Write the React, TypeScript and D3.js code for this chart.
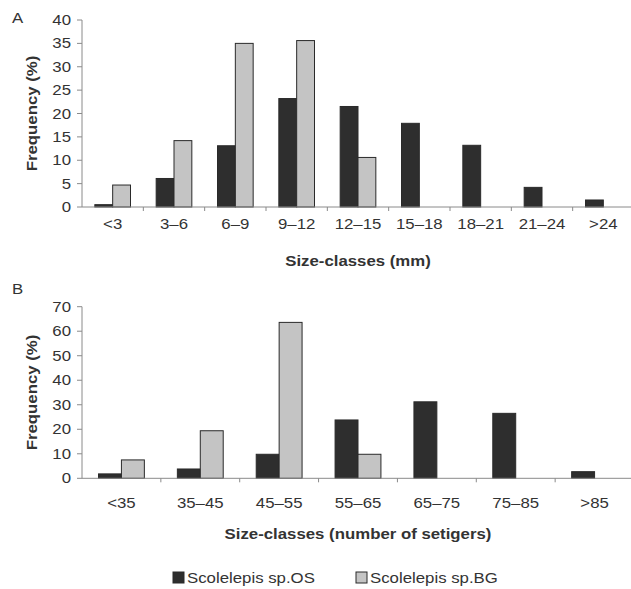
import React, { useRef, useEffect } from 'react';
import * as d3 from 'd3';

const seriesNames = ['Scolelepis sp.OS', 'Scolelepis sp.BG'];
const seriesColors = ['#2e2e2e', '#c4c4c4'];

const classesMm = ['<3', '3–6', '6–9', '9–12', '12–15', '15–18', '18–21', '21–24', '>24'];
const osMm = [0.5, 6.1, 13.1, 23.2, 21.5, 17.9, 13.2, 4.2, 1.5];
const bgMm = [4.7, 14.2, 35.0, 35.6, 10.6, 0, 0, 0, 0];
const ticksMm = [0, 5, 10, 15, 20, 25, 30, 35, 40];

const classesSet = ['<35', '35–45', '45–55', '55–65', '65–75', '75–85', '>85'];
const osSet = [1.8, 3.8, 9.8, 23.8, 31.2, 26.5, 2.7];
const bgSet = [7.5, 19.4, 63.6, 9.8, 0, 0, 0];
const ticksSet = [0, 10, 20, 30, 40, 50, 60, 70];

const FONT = 'Liberation Sans, Arial, sans-serif';
const TEXT = '#333';
const AXIS = '#8a8a8a';
const SX = 1.2; // the original figure's lettering is a bit wide

// text placed at (x, y), optionally rotated, stretched along its baseline
const label = (g, x, y, str, { anchor = 'start', bold = false, size = 14, rotate = 0 } = {}) =>
  g.append('text')
    .attr('transform', `translate(${x},${y}) rotate(${rotate}) scale(${SX},1)`)
    .attr('text-anchor', anchor)
    .attr('font-family', FONT)
    .attr('font-size', size)
    .attr('font-weight', bold ? 'bold' : 'normal')
    .attr('fill', TEXT)
    .text(str);

const drawPanel = (svg, opts) => {
  const { letter, cats, os, bg, ticks, top, bottom, xTitle, titleY, tickY, letterY } = opts;
  const left = 82, right = 634;

  const g = svg.append('g');

  const x = d3.scaleBand().domain(cats).range([left, right]).padding(0);
  const x1 = d3.scaleBand().domain(seriesNames).range([0, x.bandwidth()]).paddingOuter(0.72).paddingInner(0);
  const y = d3.scaleLinear().domain([0, ticks[ticks.length - 1]]).range([bottom, top]);

  const rows = cats.flatMap((c, i) => [
    { cat: c, s: seriesNames[0], v: os[i], color: seriesColors[0] },
    { cat: c, s: seriesNames[1], v: bg[i], color: seriesColors[1] },
  ]).filter(d => d.v > 0);

  g.selectAll('.bar')
    .data(rows)
    .enter().append('rect')
    .attr('class', 'bar')
    .attr('x', d => x(d.cat) + x1(d.s))
    .attr('y', d => y(d.v))
    .attr('width', x1.bandwidth())
    .attr('height', d => bottom - y(d.v))
    .attr('fill', d => d.color)
    .attr('stroke', '#2a2a2a')
    .attr('stroke-width', 1);

  // y axis
  g.append('line')
    .attr('x1', left).attr('x2', left)
    .attr('y1', top).attr('y2', bottom)
    .attr('stroke', AXIS);
  g.selectAll('.ytick')
    .data(ticks)
    .enter().append('line')
    .attr('x1', left - 5).attr('x2', left)
    .attr('y1', d => y(d)).attr('y2', d => y(d))
    .attr('stroke', AXIS);
  ticks.forEach(t => label(g, left - 11, y(t) + 5, t, { anchor: 'end' }));

  // x axis
  g.append('line')
    .attr('x1', left).attr('x2', right)
    .attr('y1', bottom).attr('y2', bottom)
    .attr('stroke', AXIS);
  g.selectAll('.xtick')
    .data(cats.slice(1))
    .enter().append('line')
    .attr('x1', d => x(d)).attr('x2', d => x(d))
    .attr('y1', bottom).attr('y2', bottom + 4)
    .attr('stroke', AXIS);
  cats.forEach(c => label(g, x(c) + x.bandwidth() / 2, tickY, c, { anchor: 'middle' }));

  label(g, (left + right) / 2, titleY, xTitle, { anchor: 'middle', bold: true });
  label(g, 37, (top + bottom) / 2, 'Frequency (%)', { anchor: 'middle', bold: true, rotate: -90 });
  label(g, 12, letterY, letter);
};

const App = () => {
  const svgRef = useRef(null);

  useEffect(() => {
    const svg = d3.select(svgRef.current);
    svg.selectAll('*').remove();

    drawPanel(svg, {
      letter: 'A', cats: classesMm, os: osMm, bg: bgMm, ticks: ticksMm,
      top: 20, bottom: 207, xTitle: 'Size-classes (mm)',
      tickY: 229, titleY: 266, letterY: 23,
    });
    drawPanel(svg, {
      letter: 'B', cats: classesSet, os: osSet, bg: bgSet, ticks: ticksSet,
      top: 306.7, bottom: 478.3, xTitle: 'Size-classes (number of setigers)',
      tickY: 508, titleY: 539, letterY: 294,
    });

    // legend
    const legend = svg.append('g').attr('transform', 'translate(173,572)');
    seriesNames.forEach((name, i) => {
      const item = legend.append('g').attr('transform', `translate(${i * 183},0)`);
      item.append('rect')
        .attr('width', 11).attr('height', 11)
        .attr('fill', seriesColors[i])
        .attr('stroke', '#2a2a2a');
      label(item, 14, 11, name);
    });
  }, []);

  return (
    <svg
      ref={svgRef}
      width={631}
      height={589}
      style={{ position: 'absolute', left: 0, top: 0, background: '#fff' }}
    />
  );
};

export default App;
